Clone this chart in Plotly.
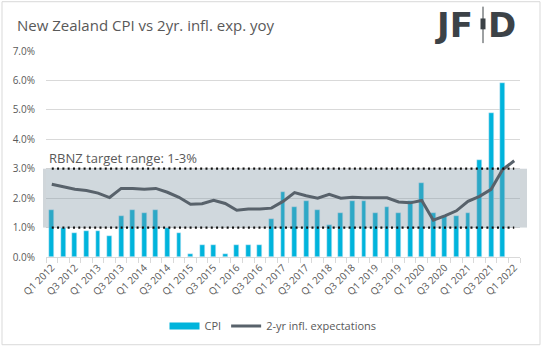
import plotly.graph_objects as go

quarters = [f"Q{q} {y}" for y in range(2012, 2023) for q in (1, 2, 3, 4)][:41]
cpi = [1.6, 1.0, 0.8, 0.9, 0.9, 0.7, 1.4, 1.6, 1.5, 1.6, 1.0, 0.8,
       0.1, 0.4, 0.4, 0.1, 0.4, 0.4, 0.4, 1.3, 2.2, 1.7, 1.9, 1.6,
       1.1, 1.5, 1.9, 1.9, 1.5, 1.7, 1.5, 1.9, 2.5, 1.5, 1.4, 1.4,
       1.5, 3.3, 4.9, 5.9, None]
infl_exp = [2.47, 2.39, 2.30, 2.26, 2.17, 2.02, 2.33, 2.33, 2.30, 2.33, 2.20, 2.03,
            1.79, 1.81, 1.93, 1.82, 1.59, 1.63, 1.63, 1.66, 1.89, 2.19, 2.08, 2.00,
            2.13, 2.00, 2.03, 2.01, 2.01, 2.01, 1.87, 1.84, 1.92, 1.25, 1.40, 1.57,
            1.89, 2.06, 2.30, 2.97, 3.27]
target_low = 1.0
target_high = 3.0
y_ticks = [0, 1, 2, 3, 4, 5, 6, 7]
y_ticktext = [f"{v:.1f}%" for v in y_ticks]

W, H = 543, 352
L, R, T, B = 46, 23, 51, 92
pw, ph = W - L - R, H - T - B


def px(x):
    return (x - L) / pw


def py(y):
    return (H - B - y) / ph


idx = list(range(len(quarters)))
FONT = "Open Sans"
GRAY = "#595959"
CYAN = "#00B4DC"

fig = go.Figure()
fig.add_trace(go.Bar(x=idx, y=cpi, name="CPI", marker_color=CYAN,
                     width=0.42, showlegend=False, legendgroup="cpi"))
# legend proxy for CPI (wide swatch like the original)
fig.add_trace(go.Scatter(x=[None], y=[None], name="CPI", mode="lines",
                         line=dict(color=CYAN, width=7), legendgroup="cpi"))
# target band
fig.add_trace(go.Scatter(x=[-0.8, 41.2, 41.2, -0.8, -0.8],
                         y=[target_low, target_low, target_high, target_high, target_low],
                         fill="toself", fillcolor="rgba(125,148,162,0.36)",
                         line=dict(width=0), mode="lines", showlegend=False,
                         hoverinfo="skip"))
fig.add_trace(go.Scatter(x=idx, y=infl_exp, name="2-yr infl. expectations",
                         mode="lines", line=dict(color="#58626B", width=3)))
for v in (target_low, target_high):
    fig.add_trace(go.Scatter(x=[idx[0], idx[-1]], y=[v, v], mode="lines",
                             line=dict(color="#111111", width=2.2, dash="2px,3.3px"),
                             showlegend=False, hoverinfo="skip"))

ticktext = [q if q.startswith(("Q1", "Q3")) else "" for q in quarters]

fig.update_layout(
    width=W, height=H,
    margin=dict(l=L, r=R, t=T, b=B),
    paper_bgcolor="white", plot_bgcolor="white",
    font=dict(family=FONT, color=GRAY, size=10),
    bargap=0,
    legend=dict(orientation="h", x=px(273), y=py(330), xanchor="center",
                yanchor="middle", font=dict(size=11, color=GRAY),
                traceorder="normal", itemwidth=30),
    xaxis=dict(range=[-0.5, 40.5], tickmode="array",
               tickvals=[i for i in idx if ticktext[i]],
               ticktext=[t for t in ticktext if t],
               tickangle=-45, ticks="", showgrid=False, zeroline=False,
               showline=True, linecolor="#D9D9D9", linewidth=1,
               tickfont=dict(size=10, color=GRAY),
               minor=dict(tickvals=[i - 0.5 for i in range(42)], ticks="outside",
                          ticklen=5, tickcolor="#D9D9D9", showgrid=False)),
    yaxis=dict(range=[0, 7], tickmode="array", tickvals=y_ticks, ticktext=y_ticktext,
               showgrid=True, gridcolor="#D9D9D9", gridwidth=1, zeroline=False,
               tickfont=dict(size=10, color=GRAY), ticklabelstandoff=10),
    shapes=[
        dict(type="rect", xref="paper", yref="paper", x0=px(2), x1=px(540),
             y0=py(349), y1=py(1), line=dict(color="#D9D9D9", width=1)),
        dict(type="rect", xref="paper", yref="y", x0=px(43), x1=px(46),
             y0=target_low, y1=target_high, fillcolor="#D0D6DA", line=dict(width=0)),
        dict(type="rect", xref="paper", yref="y", x0=px(520), x1=px(527),
             y0=target_low, y1=target_high, fillcolor="#D0D6DA", line=dict(width=0)),
        # logo candlestick
        dict(type="line", xref="paper", yref="paper", x0=px(483), x1=px(483),
             y0=py(43), y1=py(6), line=dict(color="#3C4247", width=1)),
        dict(type="rect", xref="paper", yref="paper", x0=px(480.5), x1=px(485.5),
             y0=py(29), y1=py(18), fillcolor="#3C4247", line=dict(width=0)),
    ],
    annotations=[
        dict(text="New Zealand CPI vs 2yr. infl. exp. yoy", xref="paper", yref="paper",
             x=px(15), y=py(25), xanchor="left", yanchor="middle", showarrow=False,
             font=dict(size=15, color=GRAY, family=FONT)),
        dict(text="RBNZ target range: 1-3%", xref="paper", yref="paper",
             x=px(47), y=py(160), xanchor="left", yanchor="middle", showarrow=False,
             font=dict(size=13, color=GRAY, family=FONT)),
        dict(text="<b>JF</b>", xref="paper", yref="paper",
             x=px(433), y=py(25), xanchor="left", yanchor="middle", showarrow=False,
             font=dict(size=34, color="#3C4247", family="DejaVu Sans")),
        dict(text="<b>D</b>", xref="paper", yref="paper",
             x=px(486), y=py(25), xanchor="left", yanchor="middle", showarrow=False,
             font=dict(size=34, color="#3C4247", family="DejaVu Sans")),
    ],
)

fig.write_html("out.html")
